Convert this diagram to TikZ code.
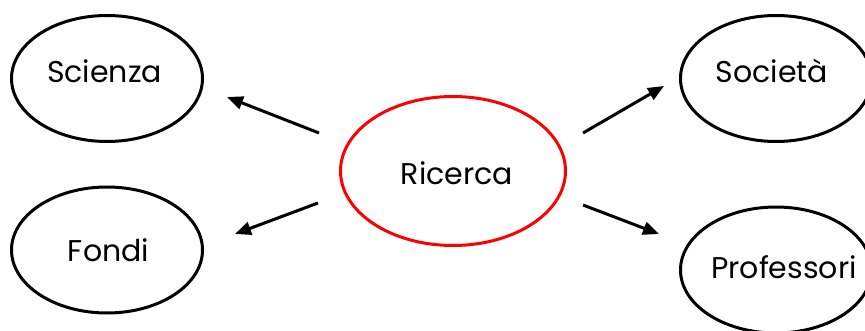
\documentclass[tikz,border=0pt]{standalone}
\usepackage{fontspec}
\setmainfont{Poppins}
\usetikzlibrary{shapes.geometric,arrows.meta,calc}
\newcommand\ptext[3]{\makebox[0pt]{\hspace*{#1}\smash{\raisebox{#2}{#3}}}}
\begin{document}
\begin{tikzpicture}[x=1pt,y=-1pt,
  bub/.style={ellipse,draw=black,line width=3pt,inner sep=0pt,minimum width=191pt,minimum height=126pt,font=\fontsize{30}{30}\selectfont},
  core/.style={ellipse,draw=red,line width=3pt,inner sep=0pt,minimum width=225pt,minimum height=149pt,font=\fontsize{30}{30}\selectfont},
  arr/.style={line width=3pt,-{Triangle[length=16pt,width=13pt]}}]
\useasboundingbox (0,0) rectangle (865,331);
\clip (0,0) rectangle (865,331);
\node[core] (ricerca) at (453,171) {\ptext{8pt}{-14pt}{Ricerca}};
\node[bub] (scienza) at (107,78.5) {\ptext{-5pt}{-4.5pt}{Scienza}};
\node[bub] (fondi) at (107,250) {\ptext{3pt}{-12pt}{Fondi}};
\node[bub] (societa) at (776,78.5) {\ptext{-8pt}{-4.5pt}{Società}};
\node[bub] (professori) at (776,270) {\ptext{16pt}{-9pt}{Professori}};
\coordinate (s1) at ($(ricerca.center)+(-134,-38)$);
\coordinate (e1) at ($(scienza.center)+(120,18.5)$);
\coordinate (s2) at ($(ricerca.center)+(-135,32)$);
\coordinate (e2) at ($(fondi.center)+(128,-16)$);
\coordinate (s3) at ($(ricerca.center)+(130,-38)$);
\coordinate (e3) at ($(societa.center)+(-112,7.5)$);
\coordinate (s4) at ($(ricerca.center)+(130,34)$);
\coordinate (e4) at ($(professori.center)+(-117,-36)$);
\draw[arr] (s1) -- (e1);
\draw[arr] (s2) -- (e2);
\draw[arr] (s3) -- (e3);
\draw[arr] (s4) -- (e4);
\end{tikzpicture}
\end{document}
